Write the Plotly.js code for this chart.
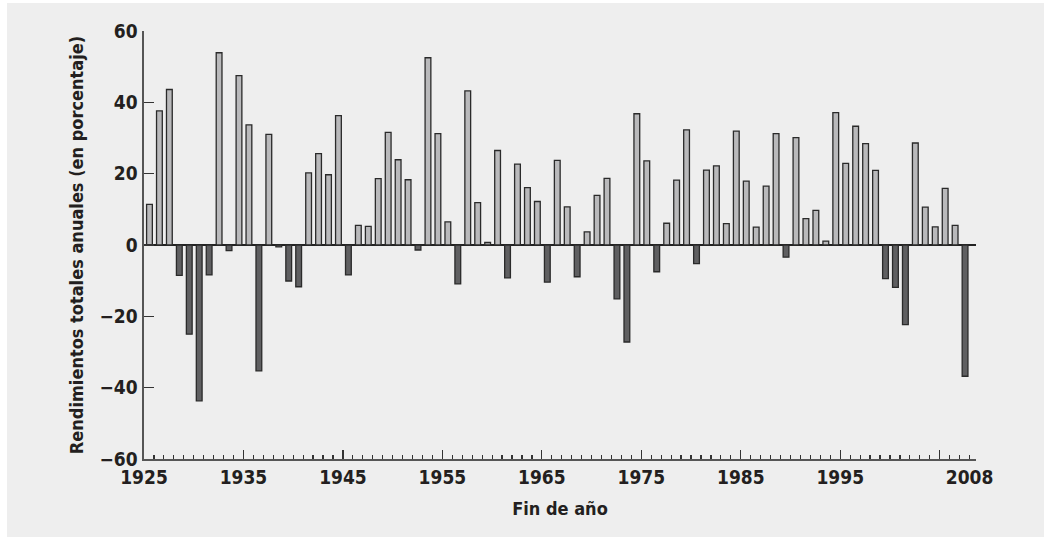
<!DOCTYPE html>
<html>
<head>
<meta charset="utf-8">
<script src="https://cdn.plot.ly/plotly-3.0.1.min.js"></script>
<style>
  html, body { margin: 0; padding: 0; background: #ffffff; }
  #chart { position: absolute; left: 7px; top: 3px; width: 1037px; height: 534px; }
</style>
</head>
<body>
<div id="chart"></div>
<script>
// Year-end total annual returns (percent), 1926-2008
const years = [
  1926,1927,1928,1929,1930,1931,1932,1933,1934,1935,1936,1937,1938,1939,1940,
  1941,1942,1943,1944,1945,1946,1947,1948,1949,1950,1951,1952,1953,1954,1955,
  1956,1957,1958,1959,1960,1961,1962,1963,1964,1965,1966,1967,1968,1969,1970,
  1971,1972,1973,1974,1975,1976,1977,1978,1979,1980,1981,1982,1983,1984,1985,
  1986,1987,1988,1989,1990,1991,1992,1993,1994,1995,1996,1997,1998,1999,2000,
  2001,2002,2003,2004,2005,2006,2007,2008
];
const returns = [
  11.4, 37.6, 43.6, -8.5, -25.0, -43.7, -8.4, 53.9, -1.6, 47.5, 33.7, -35.3, 31.0, -0.5, -10.1,
  -11.7, 20.2, 25.6, 19.7, 36.3, -8.4, 5.5, 5.2, 18.6, 31.6, 23.9, 18.3, -1.4, 52.5, 31.2,
  6.5, -10.9, 43.2, 11.9, 0.7, 26.5, -9.2, 22.7, 16.1, 12.2, -10.4, 23.7, 10.7, -8.9, 3.7,
  13.9, 18.7, -15.1, -27.2, 36.8, 23.6, -7.5, 6.1, 18.2, 32.3, -5.2, 21.0, 22.2, 6.0, 31.9,
  17.9, 5.0, 16.5, 31.2, -3.4, 30.1, 7.4, 9.7, 1.1, 37.1, 22.9, 33.3, 28.4, 20.9, -9.4,
  -11.9, -22.3, 28.6, 10.6, 5.1, 15.9, 5.5, -36.8
];
const majorTickYears = [1925,1935,1945,1955,1965,1975,1985,1995,2005];
const labelYears = [1925,1935,1945,1955,1965,1975,1985,1995,2008];
const labelText = ['1925','1935','1945','1955','1965','1975','1985','1995','2008'];
const yTicks = [-60,-40,-20,0,20,40,60];

const FONT = "'Liberation Sans Narrow', 'Arial Narrow', 'DejaVu Sans Condensed', sans-serif";
const INK = '#231f20';
const posFill = '#b9b9bb';
const negFill = '#5f5f61';

const barColors = returns.map(v => v >= 0 ? posFill : negFill);

const data = [
  {
    type: 'bar',
    x: years,
    y: returns,
    width: 0.58,
    offset: -0.74,
    marker: { color: barColors, line: { color: '#2a2a2a', width: 1.3 } },
    hoverinfo: 'x+y',
    showlegend: false
  },
  {
    type: 'scatter', mode: 'markers',
    x: [], y: [], xaxis: 'x2', yaxis: 'y',
    showlegend: false, hoverinfo: 'skip'
  }
];

const layout = {
  width: 1037, height: 534,
  margin: { l: 137, r: 68, t: 28, b: 78, pad: 0 },
  paper_bgcolor: '#eeeeee',
  plot_bgcolor: '#eeeeee',
  font: { family: FONT, color: INK, weight: 'bold' },
  showlegend: false,
  bargap: 0,
  xaxis: {
    type: 'linear',
    range: [1925, 2008.65],
    fixedrange: true,
    showgrid: false, zeroline: false,
    showline: true, linecolor: '#555555', linewidth: 2,
    tickmode: 'array', tickvals: majorTickYears,
    ticks: 'inside', ticklen: 9, tickwidth: 1.3, tickcolor: '#333333',
    showticklabels: false,
    minor: { dtick: 1, tick0: 1925, ticks: 'inside', ticklen: 4.5, tickwidth: 1.2, tickcolor: '#333333', showgrid: false },
    title: { text: 'Fin de año', font: { family: FONT, size: 18, color: INK, weight: 'bold' }, standoff: 42 }
  },
  xaxis2: {
    type: 'linear',
    overlaying: 'x', anchor: 'y', side: 'bottom',
    range: [1925, 2008.65],
    fixedrange: true,
    showgrid: false, zeroline: false, showline: false,
    tickmode: 'array', tickvals: labelYears, ticktext: labelText,
    ticks: '', ticklabelstandoff: 5,
    tickfont: { family: FONT, size: 19, color: INK, weight: 'bold' }
  },
  yaxis: {
    range: [-60, 60],
    fixedrange: true,
    showgrid: false,
    zeroline: true, zerolinecolor: '#222222', zerolinewidth: 1.6,
    showline: true, linecolor: '#555555', linewidth: 1.6,
    tickmode: 'array', tickvals: yTicks,
    ticks: 'inside', ticklen: 10, tickwidth: 1.5, tickcolor: '#333333',
    tickfont: { family: FONT, size: 19, color: INK, weight: 'bold' },
    ticklabelstandoff: 1,
    title: { text: 'Rendimientos totales anuales (en porcentaje)', font: { family: FONT, size: 18, color: INK, weight: 'bold' }, standoff: 11 }
  }
};

Plotly.newPlot('chart', data, layout, { displayModeBar: false, staticPlot: true });
</script>
</body>
</html>
